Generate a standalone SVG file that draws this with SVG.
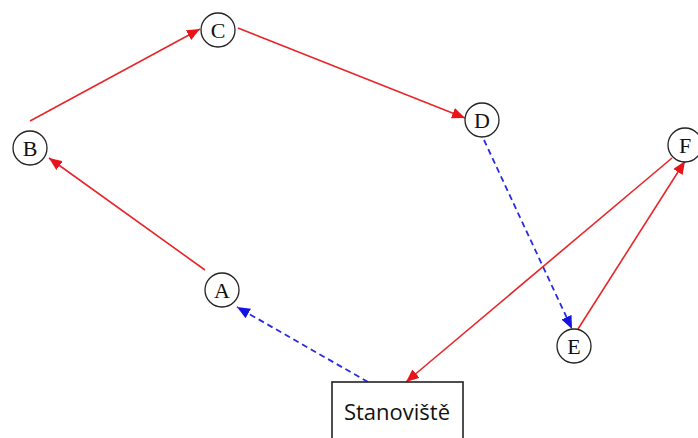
<svg xmlns="http://www.w3.org/2000/svg" width="698" height="438" viewBox="0 0 698 438">
  <style>
    .node circle { fill: #ffffff; stroke: #222222; stroke-width: 1.3; }
    .node text { font-family: "Liberation Serif", "DejaVu Serif", serif; font-size: 22px; fill: #111111; text-anchor: middle; }
    .box rect { fill: #ffffff; stroke: #222222; stroke-width: 1.6; }
    .box text { font-family: "Open Sans", "Liberation Sans", sans-serif; font-size: 22px; fill: #111111; text-anchor: middle; }
    .solid { stroke: #e8262a; stroke-width: 1.6; fill: none; marker-end: url(#arrRed); }
    .dashed { stroke: #2a2ae0; stroke-width: 1.8; fill: none; stroke-dasharray: 6 4; marker-end: url(#arrBlue); }
  </style>
  <defs>
    <marker id="arrRed" viewBox="0 0 13 11" refX="13" refY="5.5" markerWidth="13" markerHeight="11" markerUnits="userSpaceOnUse" orient="auto">
      <path d="M0,0 L13,5.5 L0,11 Z" fill="#e8141c"/>
    </marker>
    <marker id="arrBlue" viewBox="0 0 13 11" refX="13" refY="5.5" markerWidth="13" markerHeight="11" markerUnits="userSpaceOnUse" orient="auto">
      <path d="M0,0 L13,5.5 L0,11 Z" fill="#1414e0"/>
    </marker>
  </defs>
  <rect width="698" height="438" fill="#ffffff"/>

  <g id="connectors">
    <line class="solid" x1="205" y1="270" x2="49" y2="158"/>
    <line class="solid" x1="30" y1="121" x2="200" y2="29"/>
    <line class="solid" x1="238" y1="28" x2="465" y2="118"/>
    <line class="dashed" x1="484" y1="140" x2="572" y2="329"/>
    <line class="solid" x1="672" y1="158" x2="406" y2="382"/>
    <line class="solid" x1="578" y1="329" x2="685" y2="161"/>
    <line class="dashed" x1="368" y1="382" x2="237" y2="307"/>
  </g>

  <g id="node-C" class="node"><circle cx="218" cy="30" r="17"/><text x="218" y="38">C</text></g>
  <g id="node-B" class="node"><circle cx="30" cy="148" r="17"/><text x="30" y="156">B</text></g>
  <g id="node-D" class="node"><circle cx="482" cy="120" r="17"/><text x="482" y="128">D</text></g>
  <g id="node-F" class="node"><circle cx="685" cy="145" r="17"/><text x="685" y="153">F</text></g>
  <g id="node-A" class="node"><circle cx="222" cy="290" r="17"/><text x="222" y="298">A</text></g>
  <g id="node-E" class="node"><circle cx="574" cy="346" r="17"/><text x="574" y="354">E</text></g>
  <g id="node-Stanoviste" class="box"><rect x="332" y="382" width="131" height="70"/><text x="397" y="420">Stanoviště</text></g>
</svg>
